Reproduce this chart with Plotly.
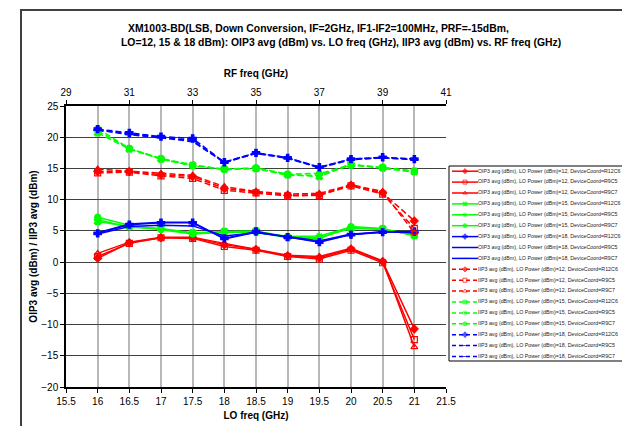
import plotly.graph_objects as go

# ---------------- data ----------------
lo_freq = [16, 16.5, 17, 17.5, 18, 18.5, 19, 19.5, 20, 20.5, 21]
rf_freq = [30, 31, 32, 33, 34, 35, 36, 37, 38, 39, 40]

oip3_lo12_r12c6 = [0.6, 3.1, 3.9, 3.9, 2.8, 2.0, 1.0, 0.7, 2.1, 0.1, -10.7]
oip3_lo12_r9c5 = [0.9, 3.0, 3.9, 3.8, 2.5, 1.9, 0.9, 0.5, 1.9, -0.1, -12.4]
oip3_lo12_r9c7 = [1.4, 3.2, 4.0, 4.0, 3.0, 2.1, 1.1, 0.9, 2.2, 0.2, -13.6]
oip3_lo15_r12c6 = [6.5, 5.7, 5.4, 4.7, 4.9, 5.0, 4.0, 3.9, 5.4, 5.3, 4.3]
oip3_lo15_r9c5 = [6.8, 5.6, 5.3, 4.6, 4.8, 4.9, 4.1, 4.2, 5.6, 5.2, 4.4]
oip3_lo15_r9c7 = [7.2, 5.9, 5.2, 4.5, 4.8, 4.8, 3.9, 3.8, 5.7, 5.4, 4.2]
oip3_lo18_r12c6 = [4.6, 6.0, 6.3, 6.3, 3.8, 4.9, 4.0, 3.2, 4.4, 4.8, 4.9]
oip3_lo18_r9c5 = [4.5, 5.7, 5.9, 5.8, 4.2, 4.7, 4.1, 3.4, 4.5, 4.8, 4.8]
oip3_lo18_r9c7 = [4.7, 6.1, 6.4, 6.4, 3.7, 4.8, 4.0, 3.3, 4.4, 4.9, 4.7]

iip3_lo12_r12c6 = [14.5, 14.5, 14.0, 13.7, 11.8, 11.2, 10.7, 10.8, 12.3, 11.1, 6.6]
iip3_lo12_r9c5 = [14.3, 14.4, 13.8, 13.4, 11.5, 11.1, 10.6, 10.7, 12.2, 10.9, 5.4]
iip3_lo12_r9c7 = [14.9, 14.6, 14.2, 13.9, 12.1, 11.3, 10.9, 11.0, 12.4, 11.3, 4.7]
iip3_lo15_r12c6 = [20.7, 18.1, 16.5, 15.5, 14.9, 15.0, 14.0, 13.7, 15.6, 15.1, 14.5]
iip3_lo15_r9c5 = [21.0, 18.2, 16.6, 15.6, 14.8, 15.0, 13.9, 13.9, 15.7, 15.0, 14.4]
iip3_lo15_r9c7 = [21.4, 18.2, 16.5, 15.4, 14.9, 15.1, 14.1, 14.2, 15.5, 15.2, 14.6]
iip3_lo18_r12c6 = [21.3, 20.7, 20.1, 19.8, 16.0, 17.5, 16.7, 15.2, 16.5, 16.8, 16.5]
iip3_lo18_r9c5 = [21.1, 20.5, 20.0, 19.5, 15.9, 17.4, 16.6, 15.1, 16.4, 16.7, 16.5]
iip3_lo18_r9c7 = [21.2, 20.4, 19.9, 19.3, 16.0, 17.5, 16.7, 15.2, 16.5, 16.7, 16.4]

title_line1 = "XM1003-BD(LSB, Down Conversion, IF=2GHz, IF1-IF2=100MHz, PRF=-15dBm,"
title_line2 = "LO=12, 15 & 18 dBm): OIP3 avg (dBm) vs. LO freq (GHz), IIP3 avg (dBm) vs. RF freq (GHz)"

# ---------------- styles ----------------
FONT = "Liberation Sans, Arial, sans-serif"
colors = {12: "#FF0000", 15: "#00FF00", 18: "#0000FF"}
symbols = {
    (12, "R12C6"): "diamond", (12, "R9C5"): "square-open", (12, "R9C7"): "triangle-up-open",
    (15, "R12C6"): "x", (15, "R9C5"): "asterisk-open", (15, "R9C7"): "circle",
    (18, "R12C6"): "cross", (18, "R9C5"): "line-ew-open", (18, "R9C7"): "line-ew-open",
}

series = [
    ("OIP3", 12, "R12C6", oip3_lo12_r12c6), ("OIP3", 12, "R9C5", oip3_lo12_r9c5), ("OIP3", 12, "R9C7", oip3_lo12_r9c7),
    ("OIP3", 15, "R12C6", oip3_lo15_r12c6), ("OIP3", 15, "R9C5", oip3_lo15_r9c5), ("OIP3", 15, "R9C7", oip3_lo15_r9c7),
    ("OIP3", 18, "R12C6", oip3_lo18_r12c6), ("OIP3", 18, "R9C5", oip3_lo18_r9c5), ("OIP3", 18, "R9C7", oip3_lo18_r9c7),
    ("IIP3", 12, "R12C6", iip3_lo12_r12c6), ("IIP3", 12, "R9C5", iip3_lo12_r9c5), ("IIP3", 12, "R9C7", iip3_lo12_r9c7),
    ("IIP3", 15, "R12C6", iip3_lo15_r12c6), ("IIP3", 15, "R9C5", iip3_lo15_r9c5), ("IIP3", 15, "R9C7", iip3_lo15_r9c7),
    ("IIP3", 18, "R12C6", iip3_lo18_r12c6), ("IIP3", 18, "R9C5", iip3_lo18_r9c5), ("IIP3", 18, "R9C7", iip3_lo18_r9c7),
]

# page geometry (pixels in the 630x426 window); the page body has an 8px margin
OFF = 8
W, H = 630, 426
L, T = 66, 106          # plot area left/top on the page
PLOT_W, PLOT_H = 380, 281
PAPER_W = W - L
dom_main = PLOT_W / PAPER_W


def px_x(px):
    return (px - L) / PAPER_W


def px_y(py):
    return 1 - (py - T) / PLOT_H


fig = go.Figure()

for kind, lo, dev, vals in series:
    name = f"{kind} avg (dBm), LO Power (dBm)={lo}, DeviceCoord={dev}"
    is_oip = kind == "OIP3"
    fig.add_trace(go.Scatter(
        x=lo_freq if is_oip else rf_freq, y=vals,
        xaxis="x" if is_oip else "x2", yaxis="y",
        mode="lines+markers", name=name, showlegend=False,
        line=dict(color=colors[lo], width=1.5, dash="solid" if is_oip else "6px,3px"),
        marker=dict(symbol=symbols[(lo, dev)], size=6, color=colors[lo],
                    line=dict(color=colors[lo], width=1.2)),
    ))

# ---- hand-drawn legend on its own pixel-scaled axes ----
LEG_X0, LEG_X1, LEG_Y0, LEG_Y1 = 449, 629, 166, 361
row0, row_step = 171.2, 10.9
for i, (kind, lo, dev, vals) in enumerate(series):
    name = f"{kind} avg (dBm), LO Power (dBm)={lo}, DeviceCoord={dev}"
    yy = row0 + i * row_step
    fig.add_trace(go.Scatter(
        x=[452, 465, 478], y=[yy, yy, yy], xaxis="x3", yaxis="y3",
        mode="lines+markers+text", showlegend=False, hoverinfo="skip",
        text=["", "", name], textposition="middle right",
        textfont=dict(family=FONT, size=5.3, color="#222222"),
        line=dict(color=colors[lo], width=1.5, dash="solid" if kind == "OIP3" else "4px,3px"),
        marker=dict(symbol=symbols[(lo, dev)], size=[0, 4, 0], color=colors[lo],
                    line=dict(color=colors[lo], width=1)),
        cliponaxis=False,
    ))

axis_font = dict(family=FONT, size=10, color="#000000")
title_font = dict(family=FONT, size=10, color="#000000")
chart_title_font = dict(family=FONT, size=10.4, color="#000000")

fig.update_layout(
    width=W - OFF, height=H - OFF,
    margin=dict(l=L - OFF, r=0, t=T - OFF, b=H - T - PLOT_H, autoexpand=False),
    paper_bgcolor="white", plot_bgcolor="white",
    font=dict(family=FONT, size=10, color="#000000"),
    xaxis=dict(domain=[0, dom_main], range=[15.5, 21.5], dtick=0.5, tick0=15.5,
               showgrid=True, gridcolor="#b8b8b8", gridwidth=2,
               showline=True, linecolor="black", linewidth=1.5,
               ticks="outside", ticklen=4, tickcolor="black", tickfont=axis_font,
               zeroline=False, anchor="y",
               title=dict(text="<b>LO freq (GHz)</b>", font=title_font, standoff=6)),
    xaxis2=dict(overlaying="x", side="top", range=[29, 41], dtick=2, tick0=29,
                showgrid=False, showline=True, linecolor="black", linewidth=1.5,
                ticks="outside", ticklen=4, tickcolor="black", tickfont=axis_font,
                zeroline=False, anchor="y",
                title=dict(text="<b>RF freq (GHz)</b>", font=title_font, standoff=8)),
    yaxis=dict(domain=[0, 1], range=[-20, 25], dtick=5, tick0=-20,
               showgrid=True, gridcolor="#404040", gridwidth=1.3,
               showline=True, linecolor="black", linewidth=1.5,
               ticks="outside", ticklen=4, tickcolor="black", tickfont=axis_font,
               zeroline=False,
               title=dict(text="<b>OIP3 avg (dBm) / IIP3 avg (dBm)</b>", font=title_font, standoff=2)),
    xaxis3=dict(domain=[dom_main, 1], range=[L + PLOT_W, W], visible=False, fixedrange=True, anchor="y3"),
    yaxis3=dict(domain=[0, 1], range=[T + PLOT_H, T], visible=False, fixedrange=True, anchor="x3"),
    annotations=[
        dict(text=f"<b>{title_line1}</b>", xref="paper", yref="paper", x=px_x(126), y=px_y(28),
             xanchor="left", yanchor="middle", showarrow=False, font=chart_title_font),
        dict(text=f"<b>{title_line2}</b>", xref="paper", yref="paper", x=px_x(119), y=px_y(43),
             xanchor="left", yanchor="middle", showarrow=False, font=chart_title_font),
    ],
    shapes=[
        dict(type="rect", xref="x3", yref="y3", x0=LEG_X0, x1=LEG_X1, y0=LEG_Y0, y1=LEG_Y1,
             line=dict(color="black", width=1), layer="below"),
        dict(type="rect", xref="paper", yref="paper",
             x0=px_x(21), x1=1.2, y0=-0.5, y1=px_y(10),
             line=dict(color="#404040", width=2), layer="below"),
    ],
)

fig.write_html("out.html")
